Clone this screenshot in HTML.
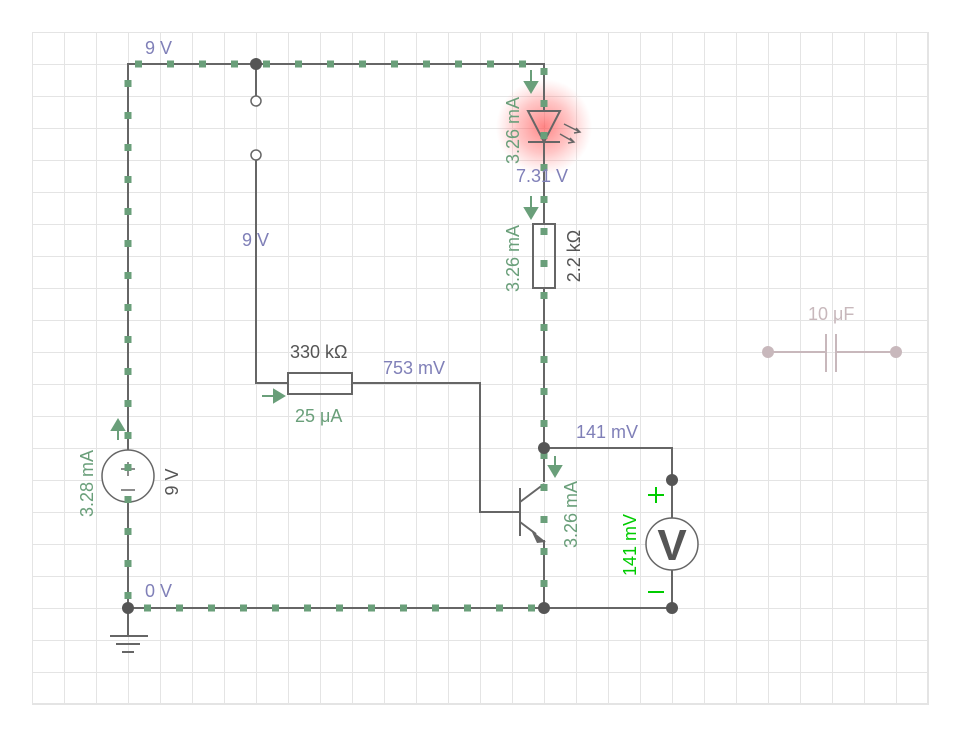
<!DOCTYPE html>
<html><head><meta charset="utf-8"><style>
html,body{margin:0;padding:0;background:#fff;}
svg{display:block;font-family:"Liberation Sans",sans-serif;}
</style></head><body>
<svg width="960" height="736" viewBox="0 0 960 736" xmlns="http://www.w3.org/2000/svg">
<defs>
<pattern id="g" x="0" y="0" width="32" height="32" patternUnits="userSpaceOnUse">
<path d="M0 0H32M0 0V32" stroke="#e4e4e4" stroke-width="2" fill="none"/>
</pattern>
<radialGradient id="glow"><stop offset="0" stop-color="#ff5050" stop-opacity="0.7"/><stop offset="0.55" stop-color="#ff7070" stop-opacity="0.4"/><stop offset="1" stop-color="#ff9090" stop-opacity="0"/></radialGradient>
</defs>
<rect x="32" y="32" width="897" height="673" fill="url(#g)"/>
<path d="M32 704H929M928 32V705" stroke="#e4e4e4" stroke-width="2"/>
<circle cx="544" cy="127" r="48" fill="url(#glow)"/>
<g stroke="#666" stroke-width="2" fill="none">
<path d="M128 608V64H544V110M544 142V224M544 288V482"/>
<path d="M128 608H544M544 540V608"/>
<path d="M256 64V96M256 160V383H288M352 383H480V512H520"/>
<path d="M544 448H672V608H544"/>
<path d="M520 488V536M520 502L544 484M520 522L536 534"/>
<path d="M128 608V636M110 636H148M116 644H140M122 652H134" />
<rect x="288" y="373" width="64" height="21"/>
<rect x="533" y="224" width="22" height="64"/>
<path d="M528 111H560L544 142Z"/>
<path d="M528 142H560"/>
<path d="M564 124L580 132M576 128L580 132L574 133M560 134L574 142M570 138L574 142L568 143" stroke-width="1.4"/>
</g>
<path d="M531 530L546 542L537 543Z" fill="#666"/>
<circle cx="256" cy="101" r="5" fill="#fff" stroke="#666" stroke-width="1.5"/>
<circle cx="256" cy="155" r="5" fill="#fff" stroke="#666" stroke-width="1.5"/>
<circle cx="128" cy="476" r="26" fill="#fff" stroke="#666" stroke-width="1.5"/>
<path d="M121 469H135M128 462V476M121 490H135" stroke="#666" stroke-width="1.5"/>
<circle cx="672" cy="544" r="26" fill="#fff" stroke="#666" stroke-width="1.5"/>
<text x="672" y="560" font-size="44" font-weight="bold" fill="#555" text-anchor="middle">V</text>
<g stroke="#6a9f7a" stroke-width="7" stroke-dasharray="7 25" fill="none">
<path d="M128 64H544" stroke-dashoffset="-7"/>
<path d="M128 64V608" stroke-dashoffset="-16"/>
<path d="M544 64V608" stroke-dashoffset="-4"/>
<path d="M128 608H544" stroke-dashoffset="-16"/>
</g>
<g fill="#555">
<circle cx="256" cy="64" r="6"/><circle cx="128" cy="608" r="6"/><circle cx="544" cy="608" r="6"/>
<circle cx="544" cy="448" r="6"/><circle cx="672" cy="480" r="6"/><circle cx="672" cy="608" r="6"/>
</g>
<g stroke="#c8b8bc" stroke-width="2">
<path d="M768 352H826M836 352H896M826 334V372M836 334V372"/>
</g>
<circle cx="768" cy="352" r="6" fill="#c8b8bc"/><circle cx="896" cy="352" r="6" fill="#c8b8bc"/>
<g fill="#6a9f7a" stroke="#6a9f7a" stroke-width="2">
<path d="M531 70V88M525 82L531 92L537 82Z"/>
<path d="M531 196V214M525 208L531 218L537 208Z"/>
<path d="M262 396H278M274 390L284 396L274 402Z"/>
<path d="M118 440V424M112 430L118 420L124 430Z"/>
<path d="M555 456V472M549 466L555 476L561 466Z"/>
</g>
<g font-size="18">
<text x="145" y="54" fill="#8080b8">9 V</text>
<text x="242" y="246" fill="#8080b8">9 V</text>
<text x="145" y="597" fill="#8080b8">0 V</text>
<text x="516" y="182" fill="#8080b8">7.31 V</text>
<text x="383" y="374" fill="#8080b8">753 mV</text>
<text x="576" y="438" fill="#8080b8">141 mV</text>
<text x="290" y="358" fill="#555">330 kΩ</text>
<text x="295" y="422" fill="#6a9f7a">25 μA</text>
<text x="808" y="320" fill="#c8b8bc">10 μF</text>
<text transform="translate(519 164) rotate(-90)" fill="#6a9f7a">3.26 mA</text>
<text transform="translate(519 292) rotate(-90)" fill="#6a9f7a">3.26 mA</text>
<text transform="translate(580 256) rotate(-90)" fill="#555" text-anchor="middle">2.2 kΩ</text>
<text transform="translate(93 517) rotate(-90)" fill="#6a9f7a">3.28 mA</text>
<text transform="translate(178 482) rotate(-90)" fill="#555" text-anchor="middle">9 V</text>
<text transform="translate(577 548) rotate(-90)" fill="#6a9f7a">3.26 mA</text>
<text transform="translate(636 576) rotate(-90)" fill="#00cc00">141 mV</text>
</g>
<path d="M648 495H664M656 487V503M648 592H664" stroke="#00cc00" stroke-width="2"/>
</svg>
</body></html>
